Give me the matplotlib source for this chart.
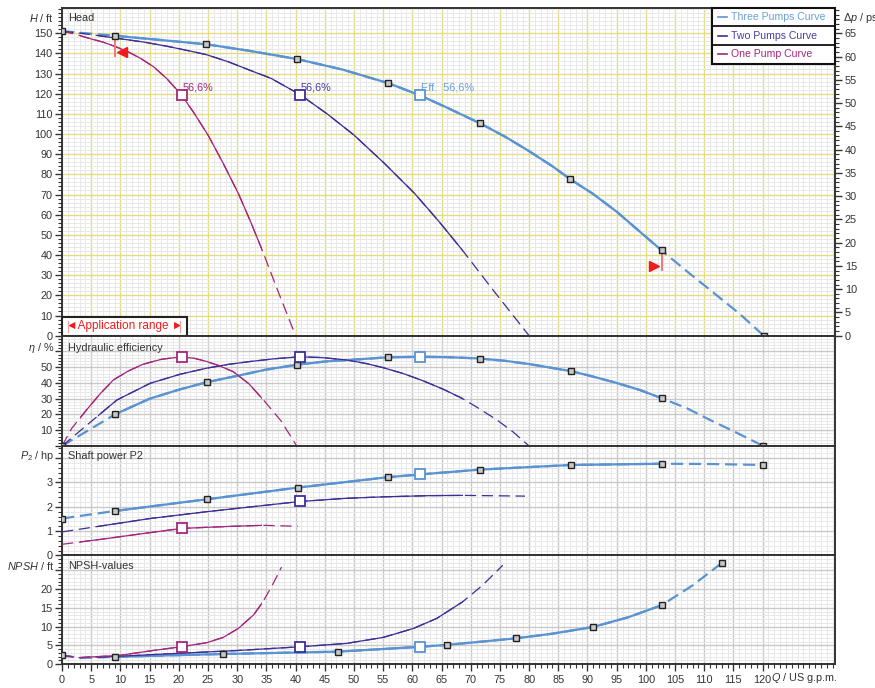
import numpy as np
import matplotlib.pyplot as plt
from matplotlib.patches import Rectangle
from matplotlib.ticker import MultipleLocator

plt.rcParams['font.family'] = ['Liberation Sans', 'DejaVu Sans']
plt.rcParams['mathtext.fontset'] = 'custom'
plt.rcParams['mathtext.rm'] = 'Liberation Sans'
plt.rcParams['mathtext.it'] = 'Liberation Sans:italic'
plt.rcParams['font.size'] = 7.8

# -----------------------------
# data (Q in US g.p.m.)
# -----------------------------
series = ['Three Pumps Curve', 'Two Pumps Curve', 'One Pump Curve']
app_range = [(9.1, 102.7), (6.1, 68.6), (3.0, 34.3)]   # solid part of each curve

# head / ft
q_h3 = [0, 9.1, 14.4, 24.7, 32, 40.2, 48, 55.9, 61.3, 66, 71.6, 76, 80, 84, 87, 91, 95, 99, 102.7, 107, 111.5, 116, 120.2]
h3 = [151, 148.7, 147.3, 144.5, 141.3, 137.2, 132, 125.2, 119.2, 113, 105.3, 98.5, 91.5, 84, 77.7, 70.2, 61.5, 51.5, 42.3, 32, 21.5, 11, 0]
q_h2 = [0, 4.5, 9.1, 14, 18.2, 22, 24.8, 28.5, 32.2, 35.8, 40.8, 45.4, 50, 55.2, 60.4, 64.6, 68.6, 74, 80]
h2 = [151, 149.5, 147.6, 145.6, 143.4, 141.1, 139.3, 135.8, 131.6, 127.6, 119.5, 110, 99.5, 85.5, 70.5, 56.5, 42.3, 22, 0]
q_h1 = [0, 2.5, 4.8, 7, 9.1, 11.3, 13.4, 15.7, 17.9, 20.5, 22.7, 25, 27.6, 30.2, 32.3, 34.3, 37, 40]
h1 = [151, 149.3, 147.3, 145.6, 143.4, 140.8, 137.6, 133.3, 127.6, 119.3, 110, 99.5, 85.5, 70.5, 56.5, 42.3, 22, 0]

# hydraulic efficiency / %
q_e3 = [0, 9.1, 15, 20, 24.8, 30, 35, 40.3, 45, 50, 55.9, 61.3, 66, 71.6, 76, 80, 84, 87.2, 91, 95, 99, 102.7, 107, 111, 115.5, 120.1]
e3 = [0, 20.1, 30, 35.7, 40.5, 44.5, 48.5, 51.6, 53.6, 54.8, 56.3, 56.6, 56.4, 55.5, 54, 52, 49.5, 47.5, 44, 40, 35.5, 30.3, 24, 16.5, 8.5, 0]
q_e2 = [0, 5.65, 9.4, 15.1, 20.2, 24.8, 28.5, 32.2, 36.5, 40.8, 44.5, 48.7, 52, 55, 58.5, 61.9, 65.3, 68.6, 71.5, 74.5, 77.3, 80]
e2 = [0, 17.6, 29.2, 39.8, 45.5, 49.4, 51.8, 53.6, 55.4, 56.6, 56.1, 54.6, 52.4, 49.7, 45.9, 41.3, 36, 30.1, 23.6, 16.5, 8.8, 0]
q_e1 = [0, 1.66, 4.2, 6.5, 8.8, 11.3, 13.9, 17, 20.4, 22.7, 24.8, 27, 29.3, 32, 34.5, 37.5, 40.2]
e1 = [0, 11.2, 22.9, 33, 41.9, 47.5, 51.9, 55, 56.6, 55.6, 53.6, 50.8, 47.2, 39.5, 29.2, 16, 0]

# shaft power P2 / hp
q_p3 = [0, 9.1, 24.8, 40.4, 55.9, 61.3, 71.6, 87.2, 102.7, 111, 120]
p3 = [1.52, 1.83, 2.31, 2.79, 3.22, 3.33, 3.53, 3.72, 3.77, 3.76, 3.72]
q_p2 = [0, 15.1, 24.8, 40.8, 48.7, 55, 63, 68.6, 79.3]
p2 = [0.97, 1.52, 1.8, 2.22, 2.35, 2.41, 2.46, 2.47, 2.44]
q_p1 = [0, 6.5, 15.1, 20.4, 25, 29.3, 34.4, 40.4]
p1 = [0.46, 0.66, 0.94, 1.11, 1.16, 1.2, 1.24, 1.2]

# NPSH / ft
q_n3 = [0, 3.1, 9.1, 18, 27.6, 38, 47.3, 55, 61.3, 65.9, 71, 77.7, 84, 91, 97, 102.7, 108, 113.1]
n3 = [2.3, 1.6, 1.9, 2.3, 2.67, 3.0, 3.3, 4.0, 4.6, 5.1, 5.85, 6.85, 8.1, 9.9, 12.5, 15.7, 21, 27.1]
q_n2 = [0, 3, 9.1, 20.5, 30, 40.8, 48.7, 55, 60.2, 64.2, 68.6, 72, 75.5]
n2 = [2.3, 1.7, 2.0, 2.9, 3.6, 4.6, 5.5, 7.1, 9.5, 12.2, 16.6, 21, 26.4]
q_n1 = [0, 3, 9.9, 15.1, 20.4, 24.8, 27.6, 30.2, 32.8, 34.4, 36, 37.6]
n1 = [2.3, 1.7, 2.3, 3.5, 4.6, 5.7, 7.1, 9.5, 13.1, 16.6, 21, 25.9]

# black check points on the three pumps curve
mq_h = [0, 9.1, 24.7, 40.2, 55.9, 71.6, 87, 102.7, 120.2]
mv_h = [151, 148.7, 144.5, 137.2, 125.2, 105.3, 77.7, 42.3, 0]
mq_e = [0, 9.1, 24.8, 40.3, 55.9, 71.6, 87.2, 102.7, 120.1]
mv_e = [0, 20.1, 40.5, 51.6, 56.3, 55.5, 47.5, 30.3, 0]
mq_p = [0, 9.1, 24.8, 40.4, 55.9, 71.6, 87.2, 102.7, 120]
mv_p = [1.52, 1.83, 2.31, 2.79, 3.22, 3.53, 3.72, 3.77, 3.72]
mq_n = [0, 9.1, 27.6, 47.3, 65.9, 77.7, 91, 102.7, 113.1]
mv_n = [2.3, 1.9, 2.67, 3.3, 5.1, 6.85, 9.9, 15.7, 27.1]

# best efficiency points (three, two, one pump)
bep_q = [61.3, 40.8, 20.5]
bep_h = [119.2, 119.5, 119.3]
bep_e = [56.6, 56.6, 56.6]
bep_p = [3.33, 2.22, 1.11]
bep_n = [4.6, 4.6, 4.6]
bep_text = ['Eff.  56,6%', '56,6%', '56,6%']

colors = ['#5a93d2', '#3d2e96', '#a3277b']
text_colors = ['#6a9fd8', '#4a3ca4', '#a3277b']
widths = [1.6, 0.9, 0.9]
dashes = [(5.5, 2.6), (9, 4.5), (9, 4.5)]

psi_per_ft = 0.4335
y_tops = [162.5, 70, 4.5, 29]

fig, axs = plt.subplots(4, 1, figsize=(8.75, 6.88), dpi=100, sharex=True,
                        gridspec_kw={'height_ratios': [327.7, 110.3, 109.5, 108.5], 'hspace': 0})
fig.subplots_adjust(left=0.0709, right=0.9543, top=0.9884, bottom=0.0349)

ink = '#333333'
for i, ax in enumerate(axs):
    ax.set_xlim(0, 132.4)
    ax.set_ylim(0, y_tops[i])
    ax.xaxis.set_major_locator(MultipleLocator(5))
    ax.xaxis.set_minor_locator(MultipleLocator(1))
    ax.set_axisbelow(True)
    major = '#e3dc80' if i == 0 else '#c9c9c9'
    ax.grid(which='major', color=major, lw=1.0)
    ax.grid(which='minor', color='#e8e8e8', lw=0.7)
    for s in ax.spines.values():
        s.set_color(ink)
        s.set_linewidth(1.4)
    ax.tick_params(axis='y', which='major', direction='out', length=5, width=1, pad=2,
                   colors=ink, labelsize=7.8)
    ax.tick_params(axis='y', which='minor', direction='out', length=3, width=0.8, colors=ink)
    if i < 3:
        ax.tick_params(axis='x', which='both', length=0)
    else:
        ax.tick_params(axis='x', which='major', direction='out', length=5, width=1, pad=3,
                       colors=ink, labelsize=7.8)
        ax.tick_params(axis='x', which='minor', direction='out', length=3, width=0.8, colors=ink)

ax_h, ax_e, ax_p, ax_n = axs

ax_h.set_yticks(np.arange(0, 151, 10))
ax_h.yaxis.set_minor_locator(MultipleLocator(2))
ax_e.set_yticks(np.arange(0, 61, 10))
ax_e.set_yticklabels(['', '10', '20', '30', '40', '50', ''])
ax_e.yaxis.set_minor_locator(MultipleLocator(2))
ax_p.set_yticks([0, 1, 2, 3, 4])
ax_p.set_yticklabels(['0', '1', '2', '3', ''])
ax_p.yaxis.set_minor_locator(MultipleLocator(0.2))
ax_n.set_yticks(np.arange(0, 26, 5))
ax_n.set_yticklabels(['0', '5', '10', '15', '20', ''])
ax_n.yaxis.set_minor_locator(MultipleLocator(1))
ax_n.set_xticks(np.arange(0, 121, 5))

# right hand pressure axis
ax_r = ax_h.twinx()
ax_r.set_ylim(0, y_tops[0] * psi_per_ft)
ax_r.set_yticks(np.arange(0, 66, 5))
ax_r.yaxis.set_minor_locator(MultipleLocator(1))
ax_r.tick_params(axis='y', which='major', direction='out', length=5, width=1, pad=2,
                 colors=ink, labelsize=7.8)
ax_r.tick_params(axis='y', which='minor', direction='out', length=3, width=0.8, colors=ink)
for s in ax_r.spines.values():
    s.set_visible(False)


def curve(ax, q, v, k):
    ax.plot(q, v, color=colors[k], lw=widths[k], dashes=dashes[k], zorder=3)
    ln, = ax.plot(q, v, color=colors[k], lw=widths[k], zorder=3.1)
    a, b = app_range[k]
    ln.set_clip_path(Rectangle((a, 0), b - a, 1, transform=ax.get_xaxis_transform()))


data = [
    (ax_h, [(q_h3, h3), (q_h2, h2), (q_h1, h1)], mq_h, mv_h, bep_h),
    (ax_e, [(q_e3, e3), (q_e2, e2), (q_e1, e1)], mq_e, mv_e, bep_e),
    (ax_p, [(q_p3, p3), (q_p2, p2), (q_p1, p1)], mq_p, mv_p, bep_p),
    (ax_n, [(q_n3, n3), (q_n2, n2), (q_n1, n1)], mq_n, mv_n, bep_n),
]
for ax, curves, mq, mv, bv in data:
    for k, (q, v) in enumerate(curves):
        curve(ax, q, v, k)
    ax.plot(mq, mv, ls='none', marker='s', ms=4.3, mfc='#c8c8c8', mec='#222222', mew=1.0, zorder=5)
    for k in range(3):
        ax.plot(bep_q[k], bv[k], ls='none', marker='s', ms=6.8, mfc='white', mec=colors[k],
                mew=1.3, zorder=6)

for k in range(3):
    ax_h.text(bep_q[k] + 0.1, 120.6, bep_text[k], color=text_colors[k], fontsize=7.8,
              ha='left', va='bottom', zorder=7)

# application range marks
red = '#f01c1c'
ax_h.plot([9.1, 9.1], [148.7, 138.7], color='#f07878', lw=1.4, zorder=4)
ax_h.plot(10.2, 140.5, ls='none', marker='<', ms=6.5, color=red, zorder=6)
ax_h.plot([102.8, 102.8], [42.3, 32.6], color='#f07878', lw=1.4, zorder=4)
ax_h.plot(101.4, 34.4, ls='none', marker='>', ms=6.5, color=red, zorder=6)

ax_h.add_patch(Rectangle((0, 0), 0.1617, 0.057, transform=ax_h.transAxes, fc='white',
                         ec='#222222', lw=1.5, zorder=8, clip_on=False))
ax_h.text(0.081, 0.0285, '◄Application range ►', transform=ax_h.transAxes, color=red,
          fontsize=8.5, ha='center', va='center', zorder=9)
for xa in (0.0078, 0.1525):
    ax_h.plot([xa, xa], [0.012, 0.045], transform=ax_h.transAxes, color='#f5a0a0', lw=0.9, zorder=9)

# legend box
x0, row = 0.841, 0.0565
ax_h.add_patch(Rectangle((x0, 1 - 3 * row), 1 - x0, 3 * row, transform=ax_h.transAxes,
                         fc='white', ec='#111111', lw=1.5, zorder=8, clip_on=False))
for k, name in enumerate(series):
    yc = 1 - (k + 0.5) * row
    if k > 0:
        ax_h.plot([x0, 1], [1 - k * row] * 2, transform=ax_h.transAxes, color='#111111', lw=1.3, zorder=9)
    ax_h.plot([0.8486, 0.8605], [yc, yc], transform=ax_h.transAxes, color=colors[k], lw=1.2, zorder=9)
    ax_h.text(0.866, yc, name, transform=ax_h.transAxes, color=text_colors[k], fontsize=7.6,
              ha='left', va='center', zorder=9)

# panel titles and unit labels
titles = ['Head', 'Hydraulic efficiency', 'Shaft power P2', 'NPSH-values']
units = [r'$H$ / ft', r'$\eta$ / %', r'$P_2$ / hp', r'$NPSH$ / ft']
title_y = [0.9695, 0.885, 0.909, 0.903]
for ax, t, u, yy in zip(axs, titles, units, title_y):
    ax.text(0.008, yy, t, transform=ax.transAxes, color=ink, fontsize=7.8, ha='left', va='center')
    ax.text(-0.0103, yy, u, transform=ax.transAxes, color=ink, fontsize=7.8, ha='right', va='center')
ax_h.text(1.0103, 0.9695, r'Δ$p$ / psi', transform=ax_h.transAxes, color=ink, fontsize=7.8,
          ha='left', va='center')
ax_n.text(121.4, -0.129, r'$Q$ / US g.p.m.', transform=ax_n.get_xaxis_transform(), color=ink,
          fontsize=7.8, ha='left', va='center')

fig.savefig('out.png', dpi=100)
